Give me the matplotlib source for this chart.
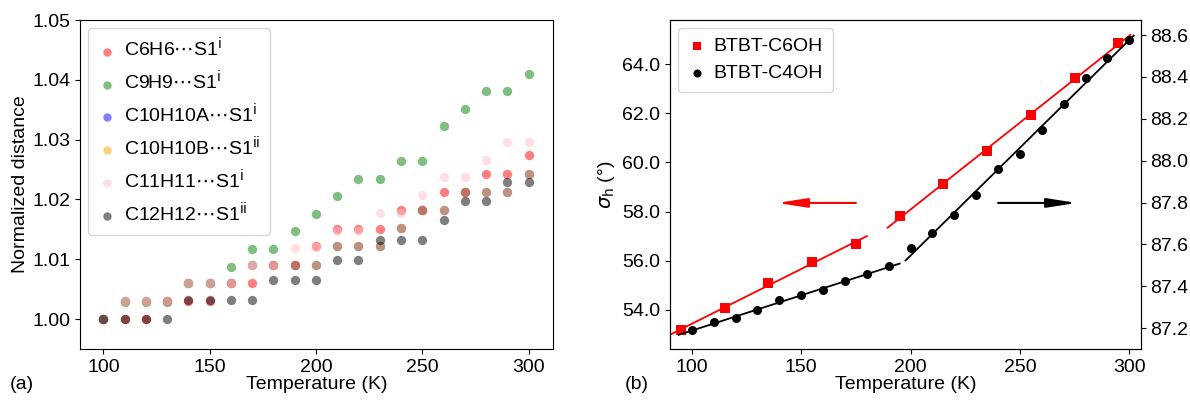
import numpy as np
import matplotlib
matplotlib.use("Agg")
import matplotlib.pyplot as plt

plt.rcParams['font.family'] = ['Liberation Sans', 'DejaVu Sans']
plt.rcParams['mathtext.fontset'] = 'dejavusans'
plt.rcParams['font.size'] = 14

# ---- panel (a): normalized contact distances ----
temps = [100, 110, 120, 130, 140, 150, 160, 170, 180, 190, 200,
         210, 220, 230, 240, 250, 260, 270, 280, 290, 300]

c6h6 = [1.000, 1.000, 1.000, 1.003, 1.003, 1.003, 1.006, 1.006, 1.009, 1.009, 1.0122,
        1.0151, 1.0151, 1.0151, 1.0183, 1.0183, 1.0213, 1.0213, 1.0243, 1.0243, 1.0274]
c9h9 = [1.000, 1.0029, 1.0029, 1.0029, 1.006, 1.006, 1.0087, 1.0117, 1.0117, 1.0147, 1.0176,
        1.0206, 1.0235, 1.0235, 1.0265, 1.0265, 1.0323, 1.0352, 1.0381, 1.0381, 1.041]
c10h10a = [1.000, 1.003, 1.003, 1.003, 1.006, 1.006, 1.006, 1.009, 1.009, 1.009, 1.009,
           1.0122, 1.0122, 1.0122, 1.0152, 1.0183, 1.0183, 1.0213, 1.0213, 1.0213, 1.0243]
c10h10b = [1.000, 1.003, 1.003, 1.003, 1.006, 1.006, 1.006, 1.009, 1.009, 1.009, 1.009,
           1.0122, 1.0122, 1.0122, 1.0152, 1.0183, 1.0183, 1.0213, 1.0213, 1.0213, 1.0243]
c11h11 = [1.000, 1.003, 1.003, 1.003, 1.006, 1.006, 1.006, 1.009, 1.009, 1.0119, 1.0120,
          1.0147, 1.0147, 1.0178, 1.0177, 1.0207, 1.0237, 1.0237, 1.0266, 1.0296, 1.0296]
c12h12 = [1.000, 1.000, 1.000, 1.000, 1.0032, 1.0032, 1.0032, 1.0032, 1.0066, 1.0066, 1.0066,
          1.0098, 1.0098, 1.0132, 1.0132, 1.0132, 1.0165, 1.0198, 1.0198, 1.0230, 1.0230]

series_a = [
    (c6h6, 'red', r'C6H6$\cdots$S1$^\mathrm{i}$'),
    (c9h9, 'green', r'C9H9$\cdots$S1$^\mathrm{i}$'),
    (c10h10a, 'blue', r'C10H10A$\cdots$S1$^\mathrm{i}$'),
    (c10h10b, 'orange', r'C10H10B$\cdots$S1$^\mathrm{ii}$'),
    (c11h11, 'pink', r'C11H11$\cdots$S1$^\mathrm{i}$'),
    (c12h12, 'black', r'C12H12$\cdots$S1$^\mathrm{ii}$'),
]

# ---- panel (b): sigma_h vs temperature ----
t_c6 = [95, 115, 135, 155, 175, 195, 215, 235, 255, 275, 295]
sig_c6 = [53.16, 54.08, 55.07, 55.95, 56.69, 57.83, 59.11, 60.45, 61.95, 63.43, 64.85]

t_c4 = [100, 110, 120, 130, 140, 150, 160, 170, 180, 190, 200,
        210, 220, 230, 240, 250, 260, 270, 280, 290, 300]
sig_c4 = [87.189, 87.227, 87.248, 87.286, 87.332, 87.356, 87.380, 87.426, 87.456, 87.496, 87.585,
          87.653, 87.739, 87.835, 87.960, 88.031, 88.147, 88.269, 88.395, 88.492, 88.576]

# fit ranges: (fit from, fit to, draw from, draw to)
fits_c6 = [(95, 175, 90, 180), (195, 295, 189.5, 300.5)]
fits_c4 = [(100, 190, 94, 195), (200, 300, 197.7, 302)]

fig = plt.figure(figsize=(11.9, 4.01), dpi=100)
ax1 = fig.add_axes([0.0672, 0.1297, 0.3975, 0.8203])
ax2 = fig.add_axes([0.563, 0.1297, 0.3956, 0.8203])

for vals, col, lab in series_a:
    ax1.scatter(temps, vals, s=45, color=col, alpha=0.5, linewidths=0, label=lab)
ax1.set_xlim(89, 311.5)
ax1.set_ylim(0.995, 1.05)
ax1.set_xticks([100, 150, 200, 250, 300])
ax1.set_yticks([1.00, 1.01, 1.02, 1.03, 1.04, 1.05])
ax1.yaxis.set_major_formatter(matplotlib.ticker.FormatStrFormatter('%.2f'))
ax1.set_xlabel('Temperature (K)', labelpad=0)
ax1.set_ylabel('Normalized distance', labelpad=2)
ax1.tick_params(labelsize=14)
ax1.legend(loc='upper left', fontsize=14, handletextpad=0.35, borderpad=0.5,
           labelspacing=0.5, handlelength=1.0, markerscale=0.9, borderaxespad=0.4)

t_c6a = np.array(t_c6)
s_c6a = np.array(sig_c6)
for f0, f1, d0, d1 in fits_c6:
    m = (t_c6a >= f0) & (t_c6a <= f1)
    p = np.polyfit(t_c6a[m], s_c6a[m], 1)
    xx = np.array([d0, d1])
    ax2.plot(xx, np.polyval(p, xx), color='red', lw=1.3)
l1 = ax2.scatter(t_c6, sig_c6, marker='s', s=50, color='red', linewidths=0,
                 label='BTBT-C6OH', zorder=3)
ax2.set_xlim(90, 305.2)
ax2.set_ylim(52.4, 65.8)
ax2.set_yticks([54, 56, 58, 60, 62, 64])
ax2.yaxis.set_major_formatter(matplotlib.ticker.FormatStrFormatter('%.1f'))
ax2.set_xticks([100, 150, 200, 250, 300])
ax2.set_xlabel('Temperature (K)', labelpad=0)
ax2.set_ylabel(r'$\sigma_\mathrm{h}$ (°)', labelpad=4)
ax2.tick_params(labelsize=14)

ax3 = ax2.twinx()
t_c4a = np.array(t_c4)
s_c4a = np.array(sig_c4)
for f0, f1, d0, d1 in fits_c4:
    m = (t_c4a >= f0) & (t_c4a <= f1)
    p = np.polyfit(t_c4a[m], s_c4a[m], 1)
    xx = np.array([d0, d1])
    ax3.plot(xx, np.polyval(p, xx), color='black', lw=1.3)
l2 = ax3.scatter(t_c4, sig_c4, marker='o', s=42, color='black', linewidths=0,
                 label='BTBT-C4OH', zorder=3)
ax3.set_ylim(87.10, 88.672)
ax3.set_yticks([87.2, 87.4, 87.6, 87.8, 88.0, 88.2, 88.4, 88.6])
ax3.yaxis.set_major_formatter(matplotlib.ticker.FormatStrFormatter('%.1f'))
ax3.tick_params(labelsize=14)

# arrows showing which axis each series uses
ax2.annotate('', xy=(139, 58.35), xytext=(175, 58.35),
             arrowprops=dict(arrowstyle='-|>,head_length=0.9,head_width=0.14',
                             color='red', lw=1.5, mutation_scale=20, shrinkA=0, shrinkB=0))
ax2.annotate('', xy=(276, 58.35), xytext=(240, 58.35),
             arrowprops=dict(arrowstyle='-|>,head_length=0.9,head_width=0.14',
                             color='black', lw=1.5, mutation_scale=20, shrinkA=0, shrinkB=0))

ax2.legend([l1, l2], ['BTBT-C6OH', 'BTBT-C4OH'], loc='upper left', fontsize=14,
           handletextpad=0.35, borderpad=0.5, labelspacing=0.5, handlelength=1.0,
           markerscale=0.9, borderaxespad=0.4)

fig.text(0.008, 0.03, '(a)', fontsize=14)
fig.text(0.525, 0.03, '(b)', fontsize=14)

fig.savefig('out.png', dpi=100)
